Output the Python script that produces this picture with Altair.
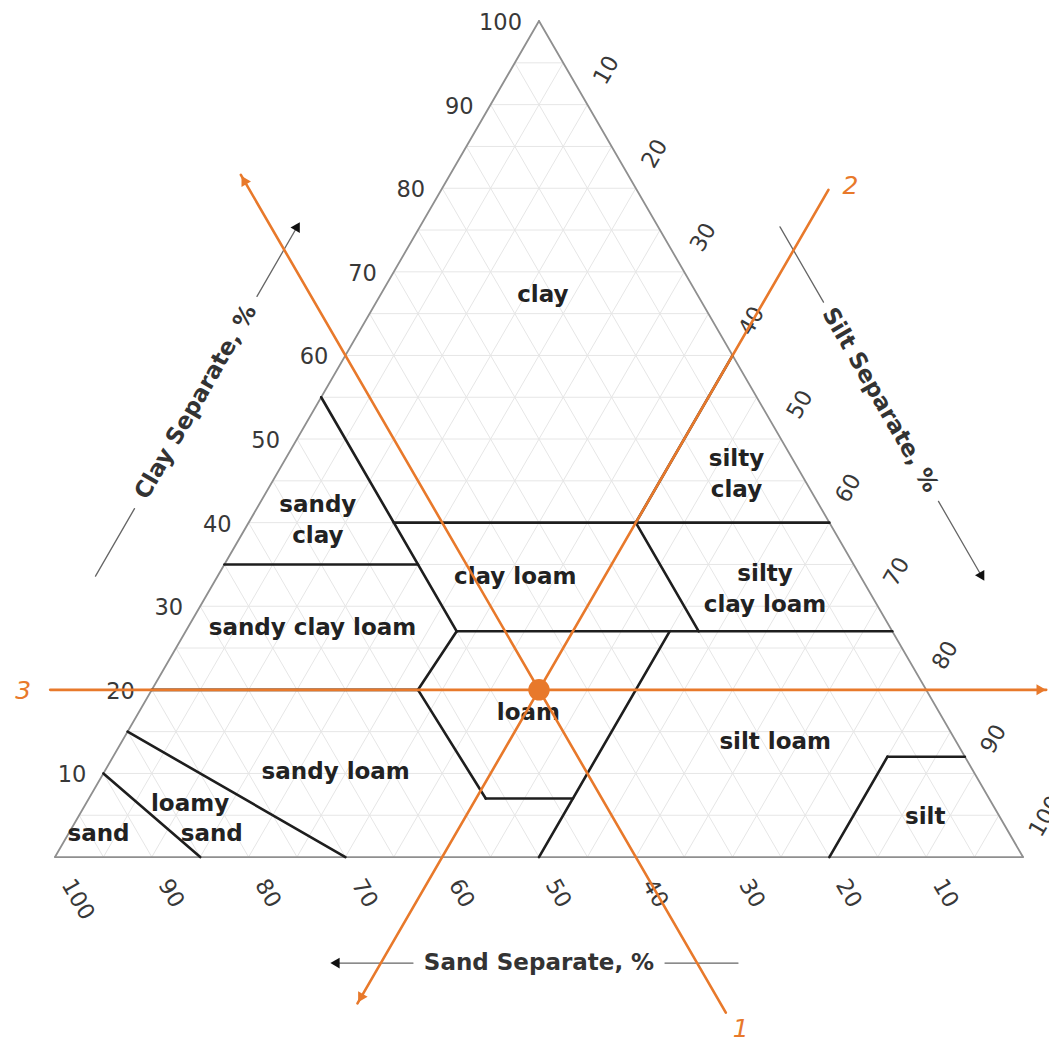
import math
import altair as alt
import pandas as pd

# ---------------- data (ternary percentages; sand = 100 - clay - silt) ----------------
TICKS = [10, 20, 30, 40, 50, 60, 70, 80, 90, 100]
GRID = [5, 10, 15, 20, 25, 30, 35, 40, 45, 50, 55, 60, 65, 70, 75, 80, 85, 90, 95]

# texture-class boundary segments: (clay1, silt1) -> (clay2, silt2)
BND_CLAY1 = [55, 35, 40, 40, 40, 27, 20, 20, 20, 7, 0, 0, 12, 15, 10]
BND_SILT1 = [0, 0, 15, 40, 40, 28, 0, 27.5, 27.5, 41, 50, 80, 80, 0, 0]
BND_CLAY2 = [27, 35, 40, 60, 27, 27, 20, 27, 7, 7, 27, 12, 12, 0, 0]
BND_SILT2 = [28, 20, 60, 40, 53, 73, 27.5, 28, 41, 50, 50, 80, 88, 30, 15]

CLASS_NAMES = ["clay", "silty\nclay", "sandy\nclay", "clay loam", "silty\nclay loam",
               "sandy clay loam", "loam", "silt loam", "sandy loam", "loamy", "sand",
               "sand", "silt"]
CLASS_CLAY = [67.2, 47.6, 42.1, 33.5, 33.9, 27.4, 17.2, 13.8, 10.2, 6.3, 2.8, 2.8, 4.8]
CLASS_SILT = [16.8, 46.6, 6.1, 30.8, 56.4, 12.9, 40.3, 67.5, 23.9, 10.8, 14.8, 3.1, 87.5]

# orange reading lines: 1 = sand 40 %, 2 = silt 40 %, 3 = clay 20 %
ORANGE_NAMES = ["1", "2", "3"]
ORANGE_CLAY1 = [81.6, -17.5, 20]
ORANGE_SILT1 = [-21.6, 40, -10.5]
ORANGE_CLAY2 = [-18.6, 79.8, 20]
ORANGE_SILT2 = [78.6, 40, 92.4]

POINT_CLAY = [20]
POINT_SILT = [40]

AXIS_TITLES = ["Clay Separate, %", "Silt Separate, %", "Sand Separate, %"]

# ---------------- layout / geometry ----------------
W, H = 1041, 1036
PXX, PXY = 9.68, 8.36          # pixels per ternary-cartesian unit
X0 = -4.855
X1 = X0 + W / PXX
Y1 = 101.56
Y0 = Y1 - H / PXY
XS = alt.Scale(domain=[X0, X1], nice=False, zero=False)
YS = alt.Scale(domain=[Y0, Y1], nice=False, zero=False)
FONT = "DejaVu Sans"


def xy(clay, silt):
    return silt + clay / 2.0, clay


def shift(p, dxp, dyp):
    return p[0] + dxp / PXX, p[1] - dyp / PXY


def seg_row(a, b):
    return {"x": a[0], "y": a[1], "x2": b[0], "y2": b[1]}


def rules(rows, color, width):
    return alt.Chart(pd.DataFrame(rows)).mark_rule(
        color=color, strokeWidth=width, strokeCap="round").encode(
        x=alt.X("x:Q", scale=XS, axis=None), y=alt.Y("y:Q", scale=YS, axis=None),
        x2="x2:Q", y2="y2:Q")


def texts(rows, **kw):
    return alt.Chart(pd.DataFrame(rows)).mark_text(**kw).encode(
        x=alt.X("x:Q", scale=XS, axis=None), y=alt.Y("y:Q", scale=YS, axis=None),
        text="t:N")


def heads(rows, color, size):
    return alt.Chart(pd.DataFrame(rows)).mark_point(
        shape="triangle-up", filled=True, color=color, opacity=1, size=size,
        strokeWidth=0).encode(
        x=alt.X("x:Q", scale=XS, axis=None), y=alt.Y("y:Q", scale=YS, axis=None),
        angle=alt.Angle("a:Q", scale=None))


# grid
grid_rows = []
for g in GRID:
    grid_rows.append(seg_row(xy(g, 0), xy(g, 100 - g)))          # clay
    grid_rows.append(seg_row(xy(0, g), xy(100 - g, g)))          # silt
    grid_rows.append(seg_row(xy(0, 100 - g), xy(100 - g, 0)))    # sand
grid = rules(grid_rows, "#e6e6e6", 1)

# outline
outline = rules([seg_row(xy(0, 0), xy(0, 100)), seg_row(xy(0, 100), xy(100, 0)),
                 seg_row(xy(100, 0), xy(0, 0))], "#8f8f8f", 1.8)

# class boundaries
bnd = rules([seg_row(xy(a, b), xy(c, d)) for a, b, c, d in
             zip(BND_CLAY1, BND_SILT1, BND_CLAY2, BND_SILT2)], "#1e1e1e", 2.6)

# tick labels
FS_TICK = 22.5
TICK_COLOR = "#383838"
clay_ticks = texts([{"x": xy(v, 0)[0], "y": xy(v, 0)[1], "t": str(v)} for v in TICKS],
                   align="right", baseline="middle", dx=-17, dy=2, fontSize=FS_TICK,
                   font=FONT, color=TICK_COLOR)
silt_rows = []
for v in TICKS:
    p = shift(xy(100 - v, v), 12, -22)
    silt_rows.append({"x": p[0], "y": p[1], "t": str(v)})
silt_ticks = texts(silt_rows, align="left", baseline="middle", angle=300, fontSize=FS_TICK,
                   font=FONT, color=TICK_COLOR)
sand_rows = []
for v in TICKS:
    p = shift(xy(0, 100 - v), 12, 24)
    sand_rows.append({"x": p[0], "y": p[1], "t": str(v)})
sand_ticks = texts(sand_rows, align="left", baseline="middle", angle=60, fontSize=FS_TICK,
                   font=FONT, color=TICK_COLOR)

# class labels
class_rows = [{"x": xy(c, s)[0], "y": xy(c, s)[1], "t": n}
              for n, c, s in zip(CLASS_NAMES, CLASS_CLAY, CLASS_SILT)]
class_lbl = texts(class_rows, align="center", baseline="middle", fontSize=23,
                  fontWeight="bold", font=FONT, color="#222222",
                  lineBreak="\n", lineHeight=31)

# axis titles with arrows
FS_TITLE = 23
u_clay = (0.5, -0.866)
u_silt = (0.5, 0.866)
c_clay = shift(xy(50, 0), -101, -37)
c_silt = shift(xy(50, 50), 99, -39)
c_sand = shift(xy(0, 50), 0, 106)


def along(c, u, t):
    return shift(c, u[0] * t, u[1] * t)


title_clay = texts([{"x": c_clay[0], "y": c_clay[1], "t": AXIS_TITLES[0]}], align="center",
                   baseline="middle", angle=300, fontSize=FS_TITLE, fontWeight="bold",
                   font=FONT, color="#333333")
title_silt = texts([{"x": c_silt[0], "y": c_silt[1], "t": AXIS_TITLES[1]}], align="center",
                   baseline="middle", angle=60, fontSize=FS_TITLE, fontWeight="bold",
                   font=FONT, color="#333333")
title_sand = texts([{"x": c_sand[0], "y": c_sand[1], "t": AXIS_TITLES[2]}], align="center",
                   baseline="middle", fontSize=FS_TITLE, fontWeight="bold",
                   font=FONT, color="#333333")
arrow_segs = [
    seg_row(along(c_clay, u_clay, -201), along(c_clay, u_clay, -123)),
    seg_row(along(c_clay, u_clay, 122), along(c_clay, u_clay, 203)),
    seg_row(along(c_silt, u_silt, -200), along(c_silt, u_silt, -113)),
    seg_row(along(c_silt, u_silt, 117), along(c_silt, u_silt, 204)),
    seg_row(along(c_sand, (1, 0), -203), along(c_sand, (1, 0), -126)),
    seg_row(along(c_sand, (1, 0), 126), along(c_sand, (1, 0), 199)),
]
arrow_lines = rules(arrow_segs, "#666666", 1.3)
hc = along(c_clay, u_clay, 203)
hs = along(c_silt, u_silt, 204)
hd = along(c_sand, (1, 0), -204)
black_heads = heads([{"x": hc[0], "y": hc[1], "a": 30}, {"x": hs[0], "y": hs[1], "a": 150},
                     {"x": hd[0], "y": hd[1], "a": 270}], "#111111", 115)

# orange reading lines
ORANGE = "#E8792B"
orange_rows = [seg_row(xy(a, b), xy(c, d)) for a, b, c, d in
               zip(ORANGE_CLAY1, ORANGE_SILT1, ORANGE_CLAY2, ORANGE_SILT2)]
orange_lines = rules(orange_rows, ORANGE, 2.6)

o1_top = xy(ORANGE_CLAY1[0], ORANGE_SILT1[0])
o1_bot = xy(ORANGE_CLAY2[0], ORANGE_SILT2[0])
o2_bot = xy(ORANGE_CLAY1[1], ORANGE_SILT1[1])
o2_top = xy(ORANGE_CLAY2[1], ORANGE_SILT2[1])
o3_left = xy(ORANGE_CLAY1[2], ORANGE_SILT1[2])
o3_right = xy(ORANGE_CLAY2[2], ORANGE_SILT2[2])

h1 = shift(o1_top, 0.5 * 6, 0.866 * 6)
h2 = shift(o2_bot, 0.5 * 6, -0.866 * 6)
h3 = shift(o3_right, -5, 0)
orange_heads = heads([{"x": h1[0], "y": h1[1], "a": 330}, {"x": h2[0], "y": h2[1], "a": 210},
                      {"x": h3[0], "y": h3[1], "a": 90}], ORANGE, 120)

l1 = shift(o1_bot, 15, 16)
l2 = shift(o2_top, 22, -4)
l3 = shift(o3_left, -27, 1)
orange_lbl = texts([{"x": l1[0], "y": l1[1], "t": ORANGE_NAMES[0]},
                    {"x": l2[0], "y": l2[1], "t": ORANGE_NAMES[1]},
                    {"x": l3[0], "y": l3[1], "t": ORANGE_NAMES[2]}],
                   align="center", baseline="middle", fontSize=25, fontStyle="italic",
                   font=FONT, color=ORANGE)

dot_rows = [{"x": xy(c, s)[0], "y": xy(c, s)[1]} for c, s in zip(POINT_CLAY, POINT_SILT)]
dot = alt.Chart(pd.DataFrame(dot_rows)).mark_circle(color=ORANGE, opacity=1, size=460).encode(
    x=alt.X("x:Q", scale=XS, axis=None), y=alt.Y("y:Q", scale=YS, axis=None))

chart = alt.layer(
    grid, outline, bnd, clay_ticks, silt_ticks, sand_ticks, class_lbl,
    arrow_lines, black_heads, title_clay, title_silt, title_sand,
    orange_lines, orange_heads, orange_lbl, dot
).properties(
    width=W, height=H, padding=0, autosize=alt.AutoSizeParams(type="none"),
    background="white"
).configure_view(stroke=None)

chart.save("out.html", embed_options={"renderer": "svg", "actions": False})
